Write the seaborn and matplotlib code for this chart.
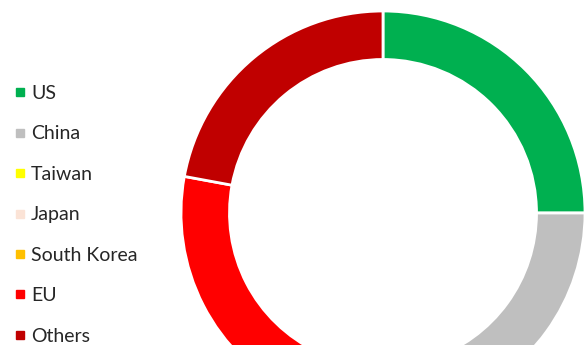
import matplotlib
matplotlib.use("Agg")
import matplotlib.pyplot as plt
from matplotlib.lines import Line2D
import seaborn as sns

# data (shares in %; bottom slices are cropped in the original)
regions = ["US", "China", "Taiwan", "Japan", "South Korea", "EU", "Others"]
shares = [25.0, 20.0, 5.0, 4.0, 3.0, 20.9, 22.1]
colors = ["#00B050", "#BFBFBF", "#FFFF00", "#FBE3D6", "#FFC000", "#FF0000", "#C00000"]

sns.set_theme(style="white")
plt.rcParams["font.family"] = ["Lato", "DejaVu Sans"]

fig = plt.figure(figsize=(5.85, 3.45), dpi=100)

# donut: centre at (383, 213) px from top-left, outer radius 202 px
W, H = 585, 345
cx, cy, r = 383, H - 213, 202
ax = fig.add_axes([(cx - r) / W, (cy - r) / H, 2 * r / W, 2 * r / H])
wedges, _ = ax.pie(
    shares,
    colors=colors,
    startangle=90,
    counterclock=False,
    radius=1.0,
    wedgeprops=dict(width=0.24, edgecolor="white", linewidth=2),
)
ax.set_xlim(-1, 1)
ax.set_ylim(-1, 1)
ax.set_aspect("equal")
ax.axis("off")

handles = [Line2D([], [], marker="s", linestyle="", markersize=5.5,
                  markerfacecolor=c, markeredgecolor=c) for c in colors]
fig.legend(
    handles, regions,
    loc="upper left",
    bbox_to_anchor=(0.0133, 0.776),
    borderaxespad=0,
    frameon=False,
    fontsize=14,
    handlelength=0.5,
    handletextpad=0.29,
    labelspacing=1.205,
)

fig.savefig("out.png", dpi=100)
